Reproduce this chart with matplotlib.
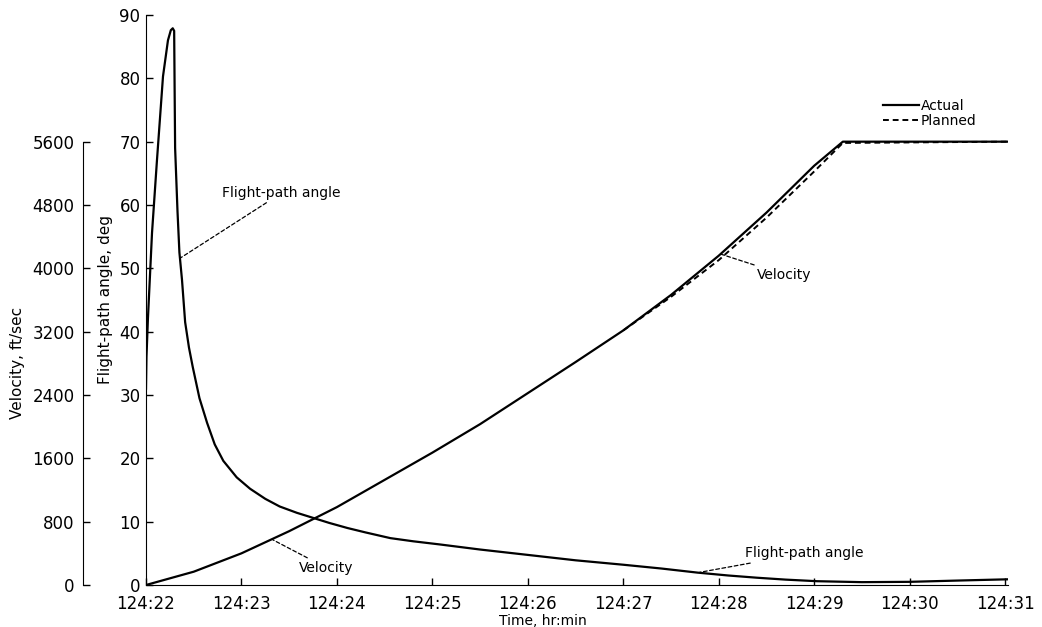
import matplotlib
matplotlib.use("Agg")
from matplotlib import pyplot as plt

# time in minutes after 124:22
fpa_time = [0.0, 0.005, 0.02, 0.063, 0.115, 0.178, 0.23, 0.26, 0.28, 0.295, 0.30, 0.305,
            0.33, 0.35, 0.377, 0.41, 0.45, 0.49, 0.56, 0.64, 0.72, 0.81, 0.95, 1.09,
            1.25, 1.40, 1.58, 1.75, 1.92, 2.11, 2.30, 2.56, 2.80, 3.08, 3.50, 4.03,
            4.50, 5.0, 5.40, 5.78, 6.10, 6.40, 6.70, 7.03, 7.50, 8.0, 8.5, 9.03]
fpa_angle = [31.0, 36.0, 42.0, 55.6, 67.1, 80.3, 86.0, 87.6, 87.9, 87.5, 78.0, 69.0,
             59.0, 52.5, 48.2, 41.5, 37.5, 34.4, 29.5, 25.6, 22.2, 19.6, 17.0, 15.2,
             13.6, 12.4, 11.4, 10.6, 9.8, 9.0, 8.3, 7.4, 6.9, 6.4, 5.6, 4.7,
             3.9, 3.2, 2.6, 1.95, 1.5, 1.15, 0.85, 0.6, 0.45, 0.5, 0.7, 0.9]

vel_time = [0.0, 0.5, 1.0, 1.5, 2.0, 2.5, 3.0, 3.5, 4.0, 4.5, 5.0, 5.5, 6.0, 6.5, 7.0, 7.3, 9.03]
vel_actual = [0, 168, 400, 680, 984, 1328, 1672, 2032, 2424, 2816, 3216, 3664, 4160, 4704,
              5296, 5600, 5600]

plan_time = [5.0, 5.5, 6.0, 6.5, 7.0, 7.3, 9.03]
vel_planned = [3216, 3640, 4104, 4640, 5224, 5584, 5600]

time_labels = ["124:22", "124:23", "124:24", "124:25", "124:26",
               "124:27", "124:28", "124:29", "124:30", "124:31"]

plt.rcParams["font.family"] = "DejaVu Sans"

fig = plt.figure(figsize=(10.42, 6.27), dpi=100)
ax = fig.add_axes([146 / 1042, 42 / 627, 862 / 1042, 570 / 627])

# flight-path angle on the inner axis
ax.plot(fpa_time, fpa_angle, color="black", lw=1.6)
ax.set_xlim(0, 9.03)
ax.set_ylim(0, 90)
ax.set_yticks(range(0, 91, 10))
ax.set_xticks(range(0, 10))
ax.set_xticklabels(time_labels)
ax.spines["top"].set_visible(False)
ax.spines["right"].set_visible(False)
ax.tick_params(direction="in", length=5, width=1, labelsize=12, pad=4)
ax.tick_params(axis="x", pad=7)
ax.set_ylabel("Flight-path angle, deg", fontsize=11)
ax.yaxis.set_label_coords(-0.038, 0.5)
ax.set_xlabel("Time, hr:min", fontsize=10)
ax.xaxis.set_label_coords(0.46, -0.051)

# velocity on the outer axis
ax2 = ax.twinx()
ax2.set_ylim(0, 7200)
l1, = ax2.plot(vel_time, vel_actual, color="black", lw=1.6, label="Actual")
l2, = ax2.plot(plan_time, vel_planned, color="black", lw=1.4, dashes=(3, 2), label="Planned")
ax2.spines["right"].set_visible(False)
ax2.spines["top"].set_visible(False)
ax2.spines["bottom"].set_visible(False)
ax2.spines["left"].set_visible(True)
ax2.spines["left"].set_position(("axes", -0.0731))
ax2.spines["left"].set_bounds(0, 5600)
ax2.yaxis.set_ticks_position("left")
ax2.yaxis.set_label_position("left")
ax2.set_yticks(range(0, 5601, 800))
ax2.tick_params(direction="in", length=5, width=1, labelsize=12, pad=6)
ax2.set_ylabel("Velocity, ft/sec", fontsize=11)
ax2.yaxis.set_label_coords(-0.140, 0.39)

# leader labels
lead = dict(arrowstyle="-", color="black", lw=0.9, linestyle=(0, (3, 2)), shrinkA=0, shrinkB=0)
ax.annotate("Flight-path angle", xy=(0.367, 51.7), xytext=(0.80, 61.9),
            fontsize=10, va="center", arrowprops=lead)
ax.annotate("Flight-path angle", xy=(5.8, 2.0), xytext=(6.27, 5.0),
            fontsize=10, va="center", arrowprops=lead)
ax2.annotate("Velocity", xy=(1.33, 570), xytext=(1.60, 220),
             fontsize=10, va="center", arrowprops=lead)
ax2.annotate("Velocity", xy=(6.02, 4180), xytext=(6.40, 3920),
             fontsize=10, va="center", arrowprops=lead)

ax2.legend(handles=[l1, l2], loc="upper left", bbox_to_anchor=(876 / 1042, 1 - 92 / 627),
           bbox_transform=fig.transFigure, frameon=False, fontsize=10,
           handlelength=2.6, handletextpad=0.1, labelspacing=0.05, borderpad=0)

plt.savefig("out.png", dpi=100)
